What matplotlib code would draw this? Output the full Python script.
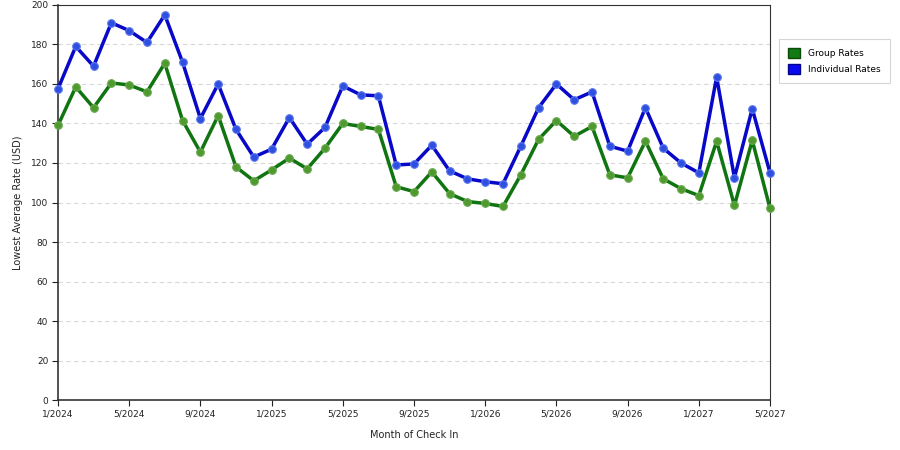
import numpy as np
import matplotlib
matplotlib.use("Agg")
import matplotlib.pyplot as plt
from matplotlib.patches import Patch

# monthly lowest average rates, 1/2024 .. 5/2027
individual_rates = [157.5, 179, 169, 191, 187, 181, 195, 171, 142.5, 160, 137, 123, 127,
                    143, 129.5, 138, 159, 154.5, 154, 119, 119.5, 129, 116, 112, 110.5,
                    109.5, 128.5, 148, 160, 152, 156, 128.5, 126, 148, 127.5, 120, 115,
                    163.5, 112.5, 147.5, 115]
group_rates = [139, 158.5, 148, 160.5, 159.5, 156, 170.5, 141.5, 125.5, 144, 118, 111, 116.5,
               122.5, 117, 127.5, 140, 138.5, 137, 108, 105.5, 115.5, 104.5, 100.5, 99.5,
               98, 114, 132, 141.5, 133.5, 138.5, 114, 112.5, 131, 112, 107, 103.5,
               131, 98.5, 131.5, 97]
tick_labels = ["1/2024", "5/2024", "9/2024", "1/2025", "5/2025", "9/2025",
               "1/2026", "5/2026", "9/2026", "1/2027", "5/2027"]

x = np.arange(len(individual_rates))

fig = plt.figure(figsize=(9, 4.5), dpi=100)
ax = fig.add_axes([0.0644, 0.111, 0.7912, 0.878])

ax.plot(x, group_rates, '-o', color='#107510', lw=2.5, ms=5.5,
        mfc='#4e9a2e', mec='#6aa84f', mew=0.8, clip_on=False, zorder=3)
ax.plot(x, individual_rates, '-o', color='#0808c8', lw=2.5, ms=5.5,
        mfc='#2e4fe0', mec='#5a78ee', mew=0.8, clip_on=False, zorder=4)

ax.set_xlim(0, 40)
ax.set_ylim(0, 200)
ax.set_yticks(np.arange(0, 201, 20))
ax.set_xticks(np.arange(0, 41, 4))
ax.set_xticklabels(tick_labels)
ax.yaxis.grid(True, linestyle=(0, (4, 3)), color='#d8d8d8', lw=0.8)
ax.set_axisbelow(True)

ax.tick_params(labelsize=6.5, length=4, width=0.8, colors='#222222', pad=3)
for s in ax.spines.values():
    s.set_color('#333333')
    s.set_linewidth(0.8)
ax.spines['bottom'].set_linewidth(1.2)
ax.spines['left'].set_linewidth(1.2)

ax.set_xlabel("Month of Check In", fontsize=7, color='#222222', labelpad=8)
ax.set_ylabel("Lowest Average Rate (USD)", fontsize=7, color='#222222', labelpad=6)

handles = [Patch(facecolor='#127a12', edgecolor='#0a4a0a', label='Group Rates'),
           Patch(facecolor='#0a0aee', edgecolor='#05058a', label='Individual Rates')]
leg = fig.legend(handles=handles, loc='upper left', bbox_to_anchor=(0.8656, 0.9133),
                 fontsize=6.5, frameon=True, fancybox=False, edgecolor='#cccccc',
                 handlelength=1.3, handleheight=1.3, borderpad=1.0, labelspacing=0.7,
                 handletextpad=0.9, borderaxespad=0)
leg.get_frame().set_linewidth(0.8)

fig.savefig("out.png", dpi=100)
